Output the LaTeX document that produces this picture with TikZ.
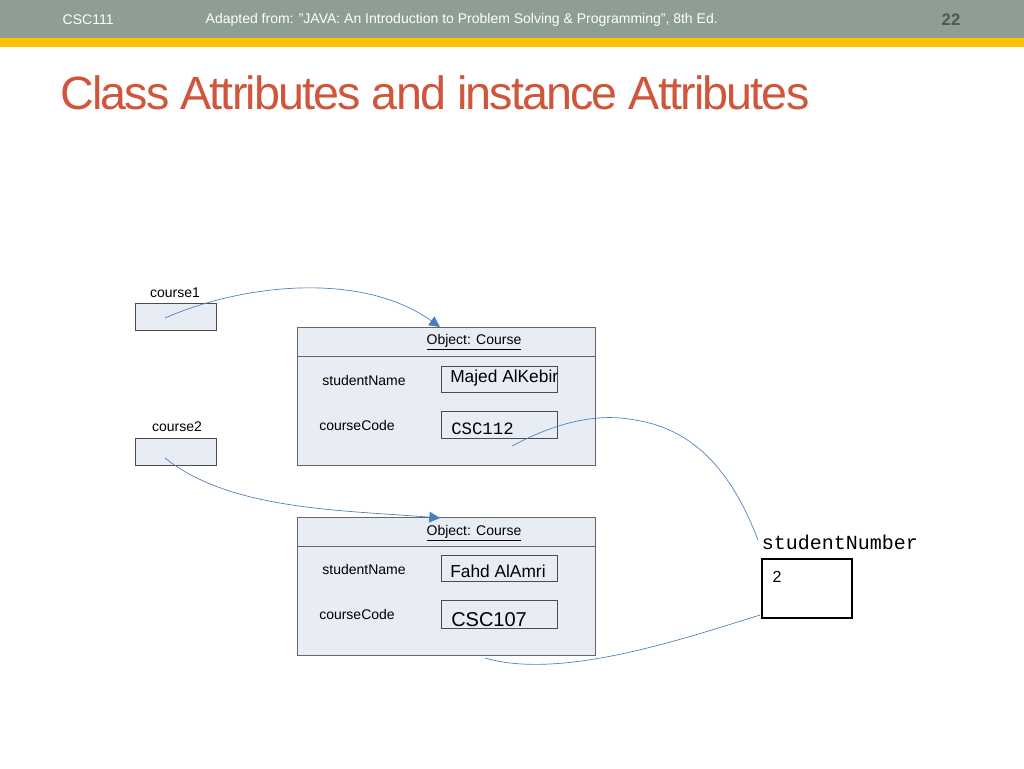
\documentclass[tikz,border=0pt]{standalone}
\usepackage{fontspec}
\setmainfont{Liberation Sans}
\setmonofont{Liberation Mono}
\usetikzlibrary{arrows.meta}
\definecolor{hdr}{HTML}{8F9E95}
\definecolor{ylw}{HTML}{FFC000}
\definecolor{ttl}{HTML}{D0563B}
\definecolor{objfill}{HTML}{E8ECF4}
\definecolor{lnk}{HTML}{4A7EBB}
\begin{document}
\begin{tikzpicture}[x=0.75pt,y=-0.75pt,
  lbl/.style={font=\fontsize{10.5}{12}\selectfont, inner sep=0pt},
  varbox/.style={draw=black!70, fill=objfill, line width=0.5pt},
  objbox/.style={draw=black!60, fill=objfill, line width=0.6pt},
  valbox/.style={draw=black!70, line width=0.5pt},
  link/.style={draw=lnk, line width=0.5pt},
  linkarr/.style={link, -{Triangle[width=8pt,length=8pt]}}]
\useasboundingbox (0,0) rectangle (1024,768);
\fill[white] (0,0) rectangle (1024,768);
\fill[hdr] (0,0) rectangle (1024,38);
\fill[ylw] (0,38) rectangle (1024,47);
\node[font=\fontsize{10.5}{12}\selectfont, text=white, anchor=west] (h1) at (58,20) {CSC111};
\node[font=\fontsize{10.5}{12}\selectfont, text=white, anchor=west] (h2) at (201,20) {Adapted from: "JAVA: An Introduction to Problem Solving \& Programming", 8th Ed.};
\node[font=\bfseries\fontsize{12.5}{14}\selectfont, text=black!45!hdr] (h3) at (951,20) {22};
\node[font=\fontsize{35}{40}\selectfont, text=ttl, anchor=west, inner sep=0pt] (title) at (60,93) {\addfontfeature{LetterSpace=-4}Class Attributes and instance Attributes};

% variables
\node[lbl] (c1l) at (175,293) {course1};
\draw[varbox] (135,303) rectangle (216,330);
\coordinate (c1) at (165,318);
\node[lbl] (c2l) at (177,427) {course2};
\draw[varbox] (135,438) rectangle (216,465);
\coordinate (c2) at (165,458);

% object 1
\draw[objbox] (297,327) rectangle (595,465);
\draw[objbox] (297,356) -- (595,356);
\node[lbl] (o1h) at (474,342) {\underline{Object: Course}};
\node[lbl] (o1a) at (364,380) {studentName};
\node[lbl] (o1b) at (357,425) {courseCode};
\draw[valbox] (441,366) rectangle (557,392);
\node[font=\fontsize{13}{15}\selectfont, anchor=west, inner sep=0pt] (o1v) at (450,378) {Majed AlKebir};
\draw[valbox] (441,411) rectangle (557,438);
\node[font=\ttfamily\fontsize{13}{15}\selectfont, anchor=west, inner sep=0pt] (o1c) at (451,429) {CSC112};
\coordinate (o1top) at (440,327);
\coordinate (o1s) at (512,446);

% object 2
\draw[objbox] (297,517) rectangle (595,655);
\draw[objbox] (297,546) -- (595,546);
\node[lbl] (o2h) at (474,533) {\underline{Object: Course}};
\node[lbl] (o2a) at (364,569) {studentName};
\node[lbl] (o2b) at (357,614) {courseCode};
\draw[valbox] (441,555) rectangle (557,581);
\node[font=\fontsize{13}{15}\selectfont, anchor=west, inner sep=0pt] (o2v) at (450,571) {Fahd AlAmri};
\draw[valbox] (441,600) rectangle (557,628);
\node[font=\fontsize{15}{17}\selectfont, anchor=west, inner sep=0pt] (o2c) at (451,620) {CSC107};
\coordinate (o2top) at (440,518);
\coordinate (o2s) at (485,658);

% static
\node[font=\ttfamily\fontsize{15}{17}\selectfont, inner sep=0pt] (snl) at (840,542) {studentNumber};
\draw[black, line width=1.6pt] (762,559) rectangle (852,618);
\node[lbl, font=\fontsize{12}{14}\selectfont] (sn) at (777,577) {2};
\coordinate (snt) at (758,540);
\coordinate (snb) at (760,615);

% links
\draw[linkarr] (c1) .. controls (240,285) and (360,270) .. (o1top);
\draw[linkarr] (c2) .. controls (230,510) and (340,510) .. (o2top);
\draw[link] (o1s) .. controls (570,415) and (610,415) .. (635,420) .. controls (700,430) and (735,480) .. (snt);
\draw[link] (o2s) .. controls (560,680) and (680,640) .. (snb);
\end{tikzpicture}
\end{document}
